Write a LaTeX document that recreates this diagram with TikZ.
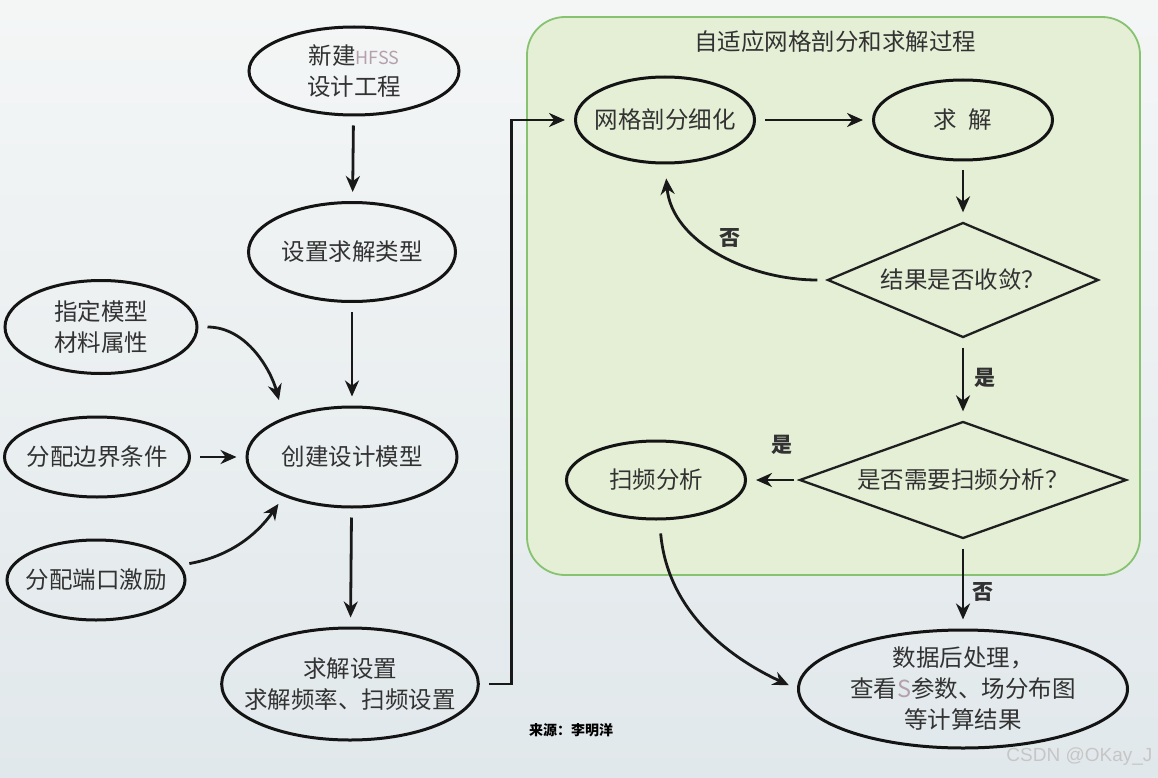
\documentclass[tikz,border=0pt]{standalone}
\usepackage{fontspec}
\newfontfamily\cjk{Noto Sans CJK SC}
\newfontfamily\wmfont{Liberation Sans}
\usetikzlibrary{shapes.geometric,arrows.meta}
\definecolor{bgtop}{RGB}{244,246,246}
\definecolor{bgbot}{RGB}{225,232,235}
\definecolor{grpfill}{RGB}{228,239,214}
\definecolor{grpline}{RGB}{134,194,112}
\definecolor{txt}{RGB}{50,50,50}
\definecolor{hfss}{RGB}{180,160,175}

\begin{document}
\begin{tikzpicture}[x=1pt,y=1pt,
  proc/.style={draw=black!92, line width=3pt, ellipse, inner sep=-15pt, align=center, text=txt, font=\cjk\fontsize{23.5}{31}\selectfont},
  decide/.style={draw=black!88, line width=2.3pt, diamond, inner sep=0pt, aspect=2.4, text=txt, font=\cjk\fontsize{23.5}{31}\selectfont},
  lbl/.style={text=txt, font=\cjk\bfseries\fontsize{21}{24}\selectfont},
  arr/.style={-{Stealth[length=16pt,width=14pt]}, line width=2.8pt, black!90, shorten <=9pt, shorten >=9pt}]
    % page background
    \shade[top color=bgtop, bottom color=bgbot] (0,0) rectangle (1158,-778);
    \useasboundingbox (0,0) rectangle (1158,-778);

    % green group behind the adaptive loop
    \node[draw=grpline, fill=grpfill, line width=1.8pt, rounded corners=38pt, minimum width=613pt, minimum height=558pt] (adapt) at (833.5,-296) {};
    \node[text=txt, font=\cjk\fontsize{23.5}{28}\selectfont] (adapttitle) at (835,-42) {自适应网格剖分和求解过程};

    % left column
    \node[proc, minimum width=210pt, minimum height=88pt] (newproj) at (354,-71) {新建{\fontsize{18}{20}\selectfont\color{hfss}HFSS}\\设计工程};
    \node[proc, minimum width=207pt, minimum height=99pt] (soltype) at (352,-252) {设置求解类型};
    \node[proc, minimum width=210pt, minimum height=100pt] (model) at (352,-457) {创建设计模型};
    \node[proc, minimum width=244pt, minimum height=112pt] (setup) at (350,-684) {求解设置\\求解频率、扫频设置};

    % inputs to the model
    \node[proc, minimum width=192pt, minimum height=93pt] (material) at (101,-327) {指定模型\\材料属性};
    \node[proc, minimum width=185pt, minimum height=80pt] (boundary) at (97,-457) {分配边界条件};
    \node[proc, minimum width=178pt, minimum height=80pt] (port) at (96,-580) {分配端口激励};

    % adaptive loop
    \node[proc, minimum width=179pt, minimum height=86pt] (mesh) at (665,-120) {网格剖分细化};
    \node[proc, minimum width=179pt, minimum height=80pt] (solve) at (963,-120) {求\enspace 解};
    \node[decide, minimum width=271pt, minimum height=115pt] (conv) at (963,-280) {结果是否收敛？};
    \node[decide, minimum width=327pt, minimum height=117pt] (sweepq) at (963,-480) {是否需要扫频分析？};
    \node[proc, minimum width=179pt, minimum height=78pt] (sweep) at (656,-480) {扫频分析};
    \node[proc, minimum width=329pt, minimum height=118pt] (post) at (963,-689) {数据后处理，\\查看{\color{hfss}S}参数、场分布图\\等计算结果};

    % connectors
    \draw[arr] (newproj) -- (soltype);
    \draw[arr] (soltype) -- (model);
    \draw[arr] (model) -- (setup);
    \draw[arr] (boundary) -- (model);
    \draw[arr, shorten >=18pt] (material) to[out=0, in=105] (model.150);
    \draw[arr] (port) to[out=10, in=235] (model.210);
    \draw[arr] (setup.east) -- ++(32,0) |- (mesh);
    \draw[arr] (mesh) -- (solve);
    \draw[arr] (solve) -- (conv);
    \draw[arr, shorten >=14pt] (conv.west) to[out=180, in=-85] (mesh.south);
    \draw[arr] (conv) -- (sweepq);
    \draw[arr, shorten <=4pt] (sweepq) -- (sweep);
    \draw[arr] (sweepq) -- (post);
    \draw[arr, shorten <=13pt] (sweep) to[out=-85, in=155] (post.west);

    % branch labels
    \node[lbl] (nolabel) at (730,-238) {否};
    \node[lbl] (yeslabel) at (985,-378) {是};
    \node[lbl] (sweeplabel) at (782,-445) {是};
    \node[lbl] (postlabel) at (983,-592) {否};

    % source and watermark
    \node[font=\cjk\bfseries\fontsize{14}{16}\selectfont] (source) at (571,-730) {来源：李明洋};
    \node[anchor=east, text=gray!45, font=\wmfont\fontsize{19}{22}\selectfont] (mark) at (1156,-757) {CSDN @OKay\_J};
\end{tikzpicture}
\end{document}
